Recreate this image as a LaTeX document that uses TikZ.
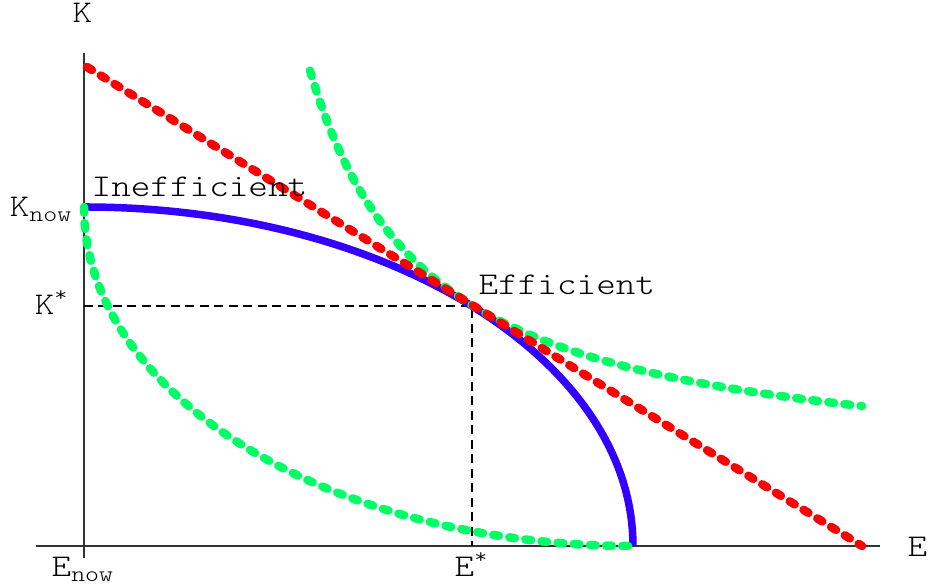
\documentclass[tikz,border=0pt]{standalone}
\usepackage{fontspec}
\setmonofont{Latin Modern Mono Light}[FakeStretch=1.18]
\usepackage{tikz}
\usetikzlibrary{calc,positioning}
\definecolor{frontblue}{RGB}{51,0,255}
\definecolor{budgetred}{RGB}{255,0,0}
\definecolor{isogreen}{RGB}{0,255,102}
\tikzset{
  lbl/.style={font=\ttfamily\fontsize{9}{11}\selectfont, inner sep=0pt},
  fuzzy/.style={line width=0.85mm, line cap=round, dash pattern=on 0.58mm off 1.04mm},
  guide/.style={line width=0.3pt, dash pattern=on 0.9mm off 0.55mm},
  axis/.style={line width=0.35pt, black!80},
}
\newcommand{\lowsub}[1]{\raisebox{-0.35ex}{\fontsize{6.4}{7}\selectfont #1}}

\begin{document}
\begin{tikzpicture}[x=0.1cm, y=0.1cm]
    \useasboundingbox (-8.4,-4.1) rectangle (84.4,54.6);
    \coordinate (O) at (0,0);
    \coordinate (Know) at (0,33.9);
    \coordinate (Emax) at (54.9,0);
    \coordinate (opt) at (38.8,24.0);
    \coordinate (Kstar) at (0,24.0);
    \coordinate (Estar) at (38.8,0);

    % assi
    \draw[axis] (-4.8,0) -- (79.6,0);
    \draw[axis] (0,-1.2) -- (0,49.3);
    \node[lbl, anchor=base west] (Klab) at (-1.2,52.3) {K};
    \node[lbl, anchor=base west] (Elab) at (82.3,-1.1) {E};

    % linee guida
    \draw[guide] (Kstar) -- (opt) -- (Estar);

    % frontiera
    \draw[frontblue, line width=0.75mm] (Know) arc[start angle=90, end angle=0, x radius=5.49cm, y radius=3.39cm];

    % isoquanti
    \draw[isogreen, fuzzy] (Know) arc[start angle=180, end angle=270, x radius=5.49cm, y radius=3.39cm];
    \draw[isogreen, fuzzy] plot[domain=22.6:77.8, samples=60] (\x, {6.7+490/(\x-10.6)});

    % retta di bilancio
    \draw[budgetred, fuzzy] (0.3,47.9) -- (77.8,0);

    % etichette
    \node[lbl, anchor=base east] (KnowLab) at (-1.2,32.9) {K\lowsub{now}};
    \node[lbl, anchor=base east] (KstarLab) at (-1.4,23.1) {K\textsuperscript{*}};
    \node[lbl, anchor=base west] (EnowLab) at (-3.3,-3.1) {E\lowsub{now}};
    \node[lbl, anchor=base west] (EstarLab) at (37.0,-3.1) {E\textsuperscript{*}};
    \node[lbl, anchor=base west] (ineff) at (0.7,34.9) {Inefficient};
    \node[lbl, anchor=base west] (eff) at (39.4,25.1) {Efficient};
\end{tikzpicture}
\end{document}
